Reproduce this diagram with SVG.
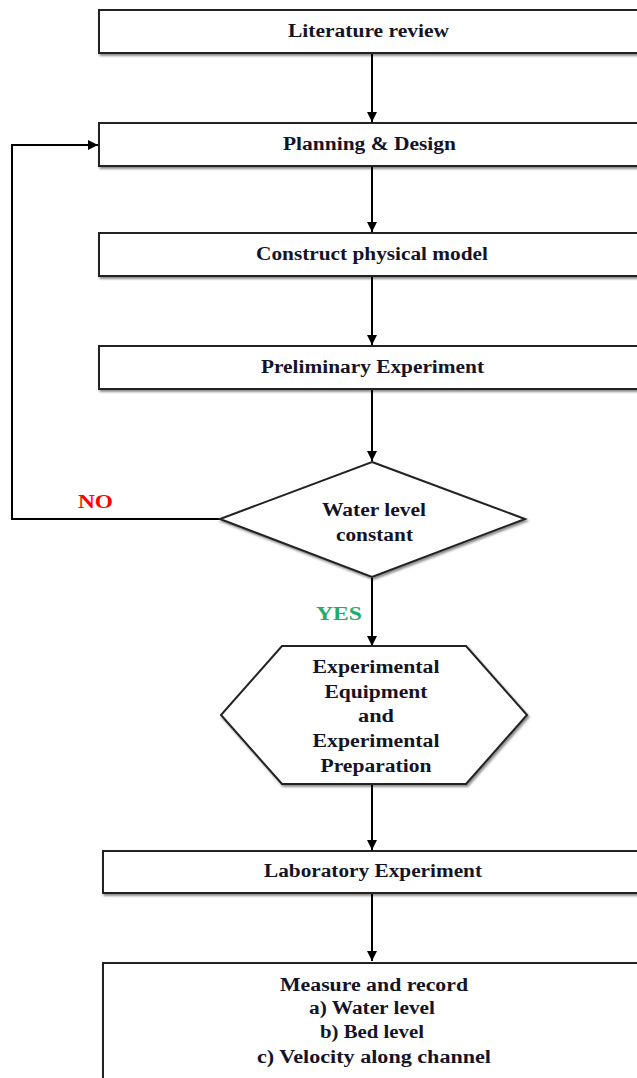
<svg xmlns="http://www.w3.org/2000/svg" width="637" height="1078" viewBox="0 0 637 1078">
<defs>
<marker id="arr" viewBox="0 0 10 10" refX="10" refY="5" markerWidth="5" markerHeight="5" orient="auto" markerUnits="strokeWidth">
<path d="M0,0 L10,5 L0,10 z" fill="#000"/>
</marker>
<filter id="sh" x="-5%" y="-5%" width="110%" height="120%">
<feDropShadow dx="1.5" dy="2" stdDeviation="1" flood-color="#000" flood-opacity="0.45"/>
</filter>
<style>
.box{fill:#fff;stroke:#222;stroke-width:2;filter:url(#sh)}
.t{font-family:"Liberation Serif","Times New Roman",serif;font-weight:bold;font-size:18px;fill:#141428;text-anchor:middle}
.c{fill:none;stroke:#000;stroke-width:2;marker-end:url(#arr)}
</style>
</defs>
<rect width="637" height="1078" fill="#fff"/>
<g id="connectors">
<line class="c" x1="372" y1="54" x2="372" y2="122"/>
<line class="c" x1="372" y1="167" x2="372" y2="232"/>
<line class="c" x1="372" y1="277" x2="372" y2="345"/>
<line class="c" x1="372" y1="390" x2="372" y2="461"/>
<line class="c" x1="372" y1="578" x2="372" y2="646"/>
<line class="c" x1="372" y1="785" x2="372" y2="850"/>
<line class="c" x1="372" y1="894" x2="372" y2="961"/>
<polyline class="c" points="220,519 12,519 12,145 98,145"/>
<text class="t" x="95.5" y="508" textLength="35" lengthAdjust="spacingAndGlyphs" style="fill:#ff0000;font-size:19px">NO</text>
<text class="t" x="339" y="620" textLength="46" lengthAdjust="spacingAndGlyphs" style="fill:#1fae6a;font-size:19px">YES</text>
</g>
<g id="n1">
<rect class="box" x="99" y="10" width="550" height="43"/>
<text class="t" x="368.5" y="37" textLength="161" lengthAdjust="spacingAndGlyphs">Literature review</text>
</g>
<g id="n2">
<rect class="box" x="99" y="123" width="550" height="43"/>
<text class="t" x="369.5" y="150" textLength="173" lengthAdjust="spacingAndGlyphs">Planning &amp; Design</text>
</g>
<g id="n3">
<rect class="box" x="99" y="233" width="550" height="43"/>
<text class="t" x="372" y="260" textLength="232" lengthAdjust="spacingAndGlyphs">Construct physical model</text>
</g>
<g id="n4">
<rect class="box" x="99" y="346" width="550" height="43"/>
<text class="t" x="372.5" y="373" textLength="223" lengthAdjust="spacingAndGlyphs">Preliminary Experiment</text>
</g>
<g id="n5">
<polygon class="box" points="372,462 525,519 372,577 220,519"/>
<text class="t" x="374" y="516" textLength="104" lengthAdjust="spacingAndGlyphs">Water level</text>
<text class="t" x="374.5" y="541" textLength="77" lengthAdjust="spacingAndGlyphs">constant</text>
</g>
<g id="n6">
<polygon class="box" points="282,646 466,646 527,715 466,784 282,784 221,715"/>
<text class="t" x="376" y="673" textLength="127" lengthAdjust="spacingAndGlyphs">Experimental</text>
<text class="t" x="376" y="698" textLength="103" lengthAdjust="spacingAndGlyphs">Equipment</text>
<text class="t" x="376" y="722" textLength="36" lengthAdjust="spacingAndGlyphs">and</text>
<text class="t" x="376" y="747" textLength="127" lengthAdjust="spacingAndGlyphs">Experimental</text>
<text class="t" x="376" y="772" textLength="111" lengthAdjust="spacingAndGlyphs">Preparation</text>
</g>
<g id="n7">
<rect class="box" x="103" y="851" width="546" height="42"/>
<text class="t" x="373" y="877" textLength="218" lengthAdjust="spacingAndGlyphs">Laboratory Experiment</text>
</g>
<g id="n8">
<rect class="box" x="103" y="963" width="546" height="130"/>
<text class="t" x="374" y="991" textLength="188" lengthAdjust="spacingAndGlyphs">Measure and record</text>
<text class="t" x="372" y="1014" textLength="126" lengthAdjust="spacingAndGlyphs">a) Water level</text>
<text class="t" x="372" y="1038" textLength="104" lengthAdjust="spacingAndGlyphs">b) Bed level</text>
<text class="t" x="374" y="1063" textLength="234" lengthAdjust="spacingAndGlyphs">c) Velocity along channel</text>
</g>
</svg>
